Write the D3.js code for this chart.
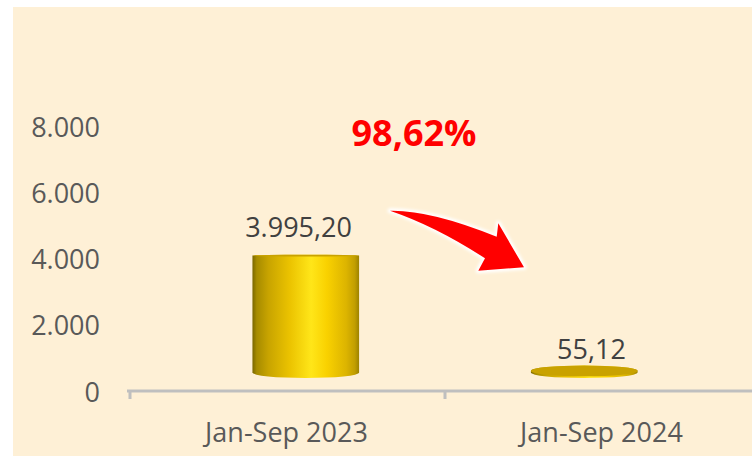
<!DOCTYPE html>
<html>
<head>
<meta charset="utf-8">
<script src="https://cdn.jsdelivr.net/npm/d3@7"></script>
<style>
  html, body { margin: 0; padding: 0; background: #ffffff; }
  svg { display: block; }
  text { font-family: "Open Sans", "Liberation Sans", sans-serif; }
</style>
</head>
<body>
<svg id="chart" width="752" height="456"></svg>
<script>
// ---- data ----
const categories = ["Jan-Sep 2023", "Jan-Sep 2024"];
const values = [3995.20, 55.12];
const valueLabels = ["3.995,20", "55,12"];
const yTicks = [0, 2000, 4000, 6000, 8000];
const yTickLabels = ["0", "2.000", "4.000", "6.000", "8.000"];
const changeLabel = "98,62%";

// ---- setup ----
const W = 752, H = 456;
const svg = d3.select("#chart");
const defs = svg.append("defs");

// background panel
svg.append("rect").attr("x", 13).attr("y", 7).attr("width", W - 13).attr("height", H - 7)
  .attr("fill", "#FEF0D6");

const x = d3.scaleBand().domain(categories).range([130, 760]).padding(0);
const y = d3.scaleLinear().domain([0, 8000]).range([391, 126]);

// 3D perspective: bars sit behind the axis plane, pulled toward a vanishing point
const vx = 445, vy = 232, k = 0.884;
const px = v => vx + k * (v - vx);
const py = v => vy + k * (v - vy);
const ryAt = yy => Math.max(0.6, 0.039 * (yy - vy));

// gradient for cylinders
const grad = defs.append("linearGradient").attr("id", "cyl").attr("x1", "0").attr("x2", "1").attr("y1", "0").attr("y2", "0");
[["0%", "#7a6700"], ["4%", "#a68b00"], ["15%", "#c8a400"], ["35%", "#ebc300"], ["55%", "#ffe619"],
 ["70%", "#f9d100"], ["88%", "#dcb400"], ["96%", "#c19e00"], ["100%", "#9c8200"]]
  .forEach(([o, c]) => grad.append("stop").attr("offset", o).attr("stop-color", c));

// y axis labels (no axis line)
const yAxis = d3.axisLeft(y).tickValues(yTicks).tickFormat((d, i) => yTickLabels[i]).tickSize(0).tickPadding(0);
const gy = svg.append("g").attr("transform", "translate(100,1)").call(yAxis);
gy.select(".domain").remove();
gy.selectAll("text").attr("font-size", 27).attr("fill", "#595959").attr("dy", "0.34em");

// x axis
svg.append("line").attr("x1", 127).attr("x2", W).attr("y1", y(0)).attr("y2", y(0))
  .attr("stroke", "#BFBFBF").attr("stroke-width", 3);
const tickXs = [x.range()[0]].concat(categories.map(c => x(c) + x.bandwidth()));
svg.selectAll(".xtick").data(tickXs).enter().append("line")
  .attr("x1", d => d).attr("x2", d => d).attr("y1", y(0)).attr("y2", y(0) + 8)
  .attr("stroke", "#BFBFBF").attr("stroke-width", 3);
svg.selectAll(".xlab").data(categories).enter().append("text")
  .attr("x", d => x(d) + x.bandwidth() / 2 - 1).attr("y", 442)
  .attr("text-anchor", "middle").attr("font-size", 27).attr("fill", "#595959")
  .text(d => d);

// cylinders
const barW = x.bandwidth() * 0.383;
values.forEach((v, i) => {
  const cx = px(x(categories[i]) + x.bandwidth() / 2);
  const rx = k * barW / 2;
  const yb = py(y(0)), yt = py(y(v));
  const ryb = ryAt(yb), ryt = ryAt(yt);
  const l = cx - rx, r = cx + rx;
  const p = `M${l},${yt} L${l},${yb} A${rx},${ryb} 0 0 0 ${r},${yb} L${r},${yt} A${rx},${ryt} 0 0 0 ${l},${yt} Z`;
  svg.append("path").attr("d", p).attr("fill", "url(#cyl)");
  svg.append("ellipse").attr("cx", cx).attr("cy", yt).attr("rx", rx).attr("ry", ryt)
    .attr("fill", "#C9A200");
  // value label
  const lx = vx + 0.93 * (x(categories[i]) + x.bandwidth() / 2 - vx);
  const ly = vy + 0.937 * (y(v) - vy) - 20;
  svg.append("text").attr("x", lx).attr("y", ly).attr("text-anchor", "middle")
    .attr("font-size", 27).attr("fill", "#404040").text(valueLabels[i]);
});

// change annotation
svg.append("text").attr("x", 414).attr("y", 146).attr("text-anchor", "middle")
  .attr("font-size", 36).attr("font-weight", "bold").attr("fill", "#FF0000").text(changeLabel);

// curved arrow with white glow
const glow = defs.append("filter").attr("id", "glow").attr("x", "-20%").attr("y", "-20%").attr("width", "140%").attr("height", "140%");
glow.append("feGaussianBlur").attr("stdDeviation", 1.4);
const arrowD = "M390,210.7 Q430,209.7 496.7,236.7 L498.3,223.3 L524,267.3 L478.3,270.7 L485,258.3 Q436,226.4 390,210.7 Z";
svg.append("path").attr("d", arrowD).attr("fill", "#ffffff").attr("stroke", "#ffffff")
  .attr("stroke-width", 5).attr("stroke-linejoin", "round").attr("filter", "url(#glow)");
svg.append("path").attr("d", arrowD).attr("fill", "#FF0000");
</script>
</body>
</html>
